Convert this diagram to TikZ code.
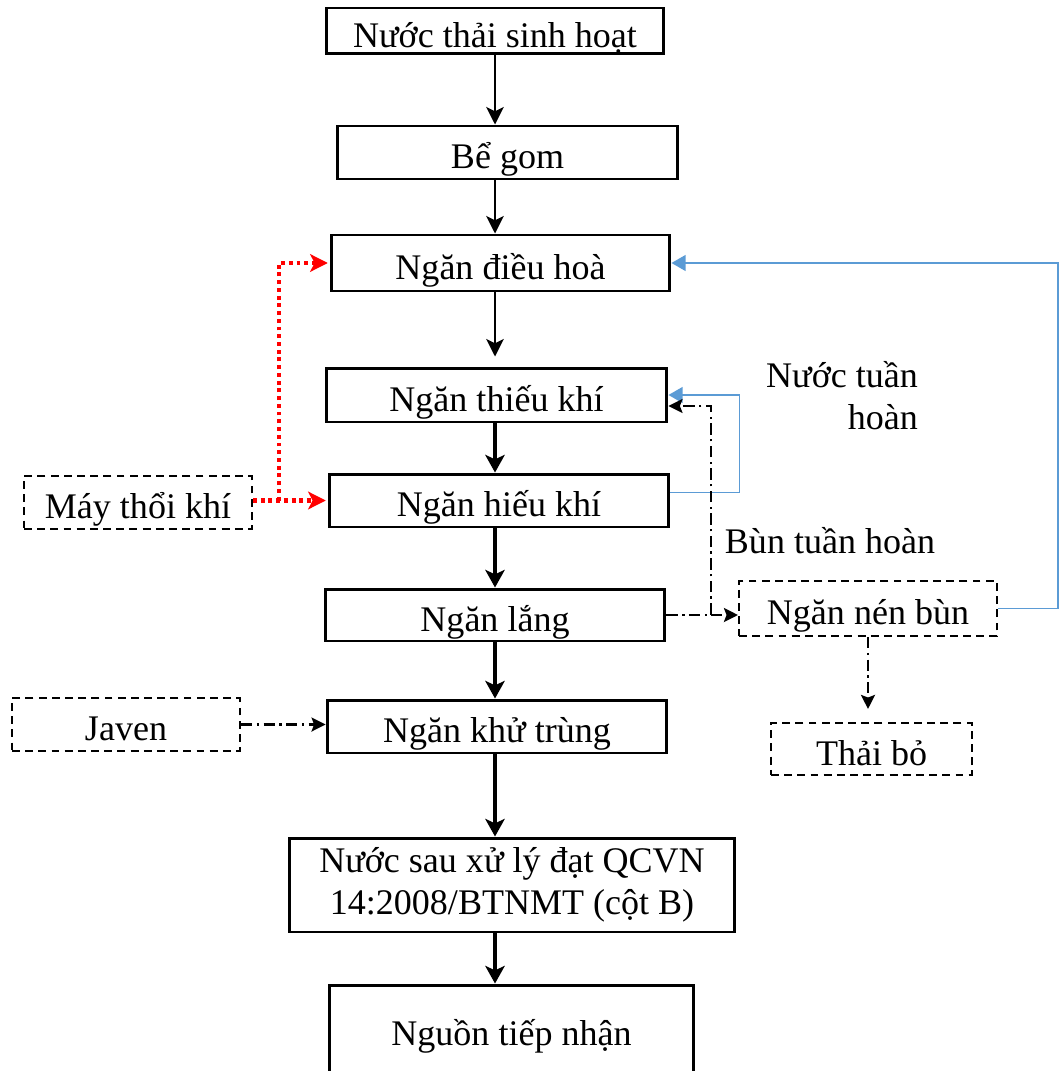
\documentclass[tikz,border=0pt]{standalone}
\usepackage{fontspec}
\setmainfont{Liberation Serif}
\usepackage{tikz}
\usetikzlibrary{positioning}
\usetikzlibrary{arrows.meta}
\usetikzlibrary{calc}

\begin{document}
\begin{tikzpicture}[x=0.02cm, y=-0.02cm,
  font=\fontsize{20.5}{24}\selectfont,
  frame/.style={draw, line width=1.7pt, rectangle, inner sep=0pt},
  box/.style={frame, text height=0.75cm, text depth=0.1cm},
  dbox/.style={draw, line width=1.2pt, dash pattern=on 4.5pt off 3pt, inner sep=0pt, text height=0.75cm, text depth=0.1cm},
  flow/.style={line width=1.2pt, -{Stealth[length=10pt, width=10pt, inset=2.5pt]}},
  bigflow/.style={line width=2.3pt, -{Stealth[length=10pt, width=11pt, inset=2.5pt]}},
  air/.style={red, line width=2.5pt, dash pattern=on 2.2pt off 2.2pt, -{Stealth[length=10pt, width=10pt, inset=2.5pt, sep=1pt]}},
  back/.style={color={rgb,255:red,91;green,155;blue,213}, line width=0.8pt, -{Triangle[length=8pt, width=9pt]}},
  sludge/.style={line width=1.3pt, dash pattern=on 6.5pt off 2.5pt on 1.3pt off 2.5pt, -{Stealth[length=8pt, width=8pt, inset=1.5pt]}}
]
\useasboundingbox (0,0) rectangle (1059,1071);

% main line
\node[box, minimum width=6.76cm, minimum height=0.92cm] (tho) at (495,31) {Nước thải sinh hoạt};
\node[box, minimum width=6.82cm, minimum height=1.06cm] (gom) at (507.5,152.5) {Bể gom};
\node[box, minimum width=6.78cm, minimum height=1.12cm] (dieuhoa) at (500.5,263) {Ngăn điều hoà};
\node[box, minimum width=6.82cm, minimum height=1.08cm] (thieukhi) at (496.5,395) {Ngăn thiếu khí};
\node[box, minimum width=6.80cm, minimum height=1.06cm] (hieukhi) at (499,500.5) {Ngăn hiếu khí};
\node[box, minimum width=6.80cm, minimum height=1.04cm] (lang) at (495,615) {Ngăn lắng};
\node[box, minimum width=6.80cm, minimum height=1.06cm] (khutrung) at (497,726.5) {Ngăn khử trùng};
\node[frame, align=center, minimum width=8.92cm, minimum height=1.88cm] (dat) at (512,885) {Nước sau xử lý đạt QCVN\\14:2008/BTNMT (cột B)};
\node[box, minimum width=7.30cm, minimum height=1.76cm] (nguon) at (511.5,1029) {Nguồn tiếp nhận};

% side boxes
\node[dbox, minimum width=4.56cm, minimum height=1.06cm] (may) at (138,502.5) {Máy thổi khí};
\node[dbox, minimum width=4.56cm, minimum height=1.06cm] (javen) at (126,724.5) {Javen};
\node[dbox, minimum width=5.16cm, minimum height=1.10cm] (nenbun) at (868,608.5) {Ngăn nén bùn};
\node[dbox, minimum width=4.02cm, minimum height=1.04cm] (thaibo) at (871.5,749) {Thải bỏ};

% labels
\node[anchor=east, align=right] (nuoclbl) at (924,396) {Nước tuần\\hoàn};
\node (bunlbl) at (830,541) {Bùn tuần hoàn};

% flow arrows
\draw[flow] (tho.south) -- (tho.south |- gom.north);
\draw[flow] (gom.south -| tho.south) -- (dieuhoa.north -| tho.south);
\draw[flow, shorten >=0.2cm] (dieuhoa.south -| tho.south) -- (thieukhi.north -| tho.south);
\draw[bigflow] (thieukhi.south -| tho.south) -- (hieukhi.north -| tho.south);
\draw[bigflow] (hieukhi.south -| tho.south) -- (lang.north -| tho.south);
\draw[bigflow] (lang.south -| tho.south) -- (khutrung.north -| tho.south);
\draw[bigflow] (khutrung.south -| tho.south) -- (dat.north -| tho.south);
\draw[bigflow] (dat.south -| tho.south) -- (nguon.north -| tho.south);

% air
\coordinate (airsplit) at (279,500.5);
\draw[air] (may.east |- airsplit) -- (hieukhi.west |- airsplit);
\draw[air] (airsplit) |- (dieuhoa.west);

% chemical
\draw[sludge] (javen.east) -- (javen.east -| khutrung.west);

% return water
\draw[back] (nenbun.east) -- ++(60,0) |- (dieuhoa.east);
\draw[back] ([yshift=0.16cm]hieukhi.east) -- ++(69,0) |- (thieukhi.east);

% sludge
\coordinate (bunx) at (711,613);
\draw[sludge] (lang.east) -- (lang.east -| bunx) |- ([yshift=-0.22cm]thieukhi.east);
\draw[sludge] (lang.east -| bunx) -- (lang.east -| nenbun.west);
\draw[sludge, shorten >=0.26cm] (nenbun.south) -- (nenbun.south |- thaibo.north);

\end{tikzpicture}
\end{document}
